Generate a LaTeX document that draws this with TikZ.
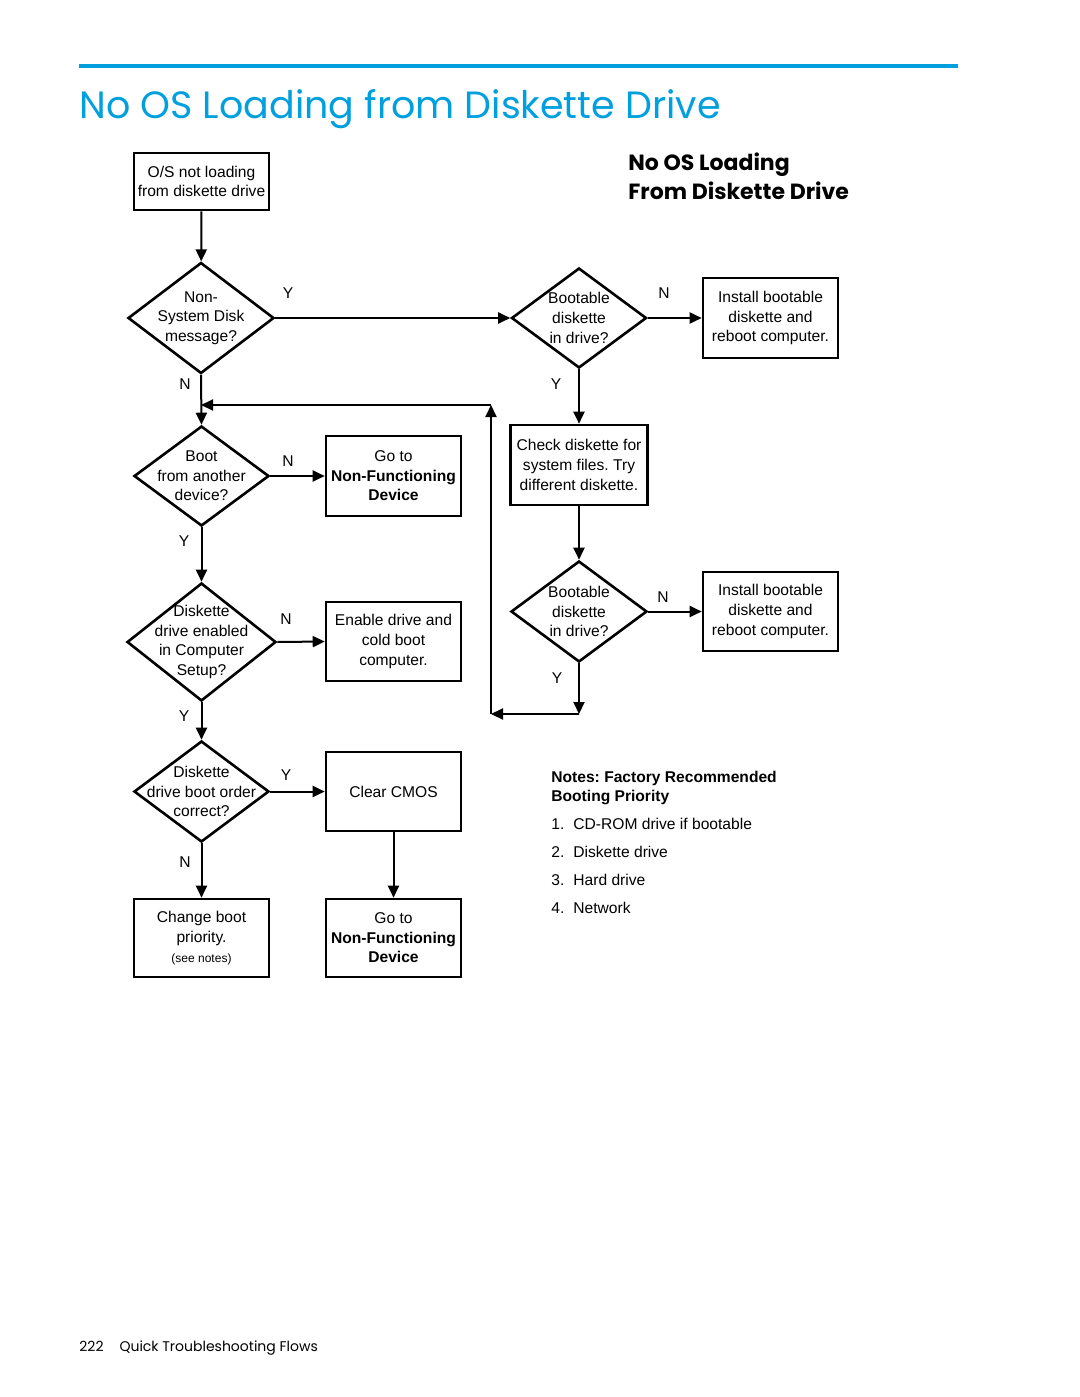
\documentclass[tikz,border=0pt]{standalone}
\usepackage{fontspec}
\setmainfont{Liberation Sans}
\newfontfamily\hpfont{Poppins}
\usepackage{tikz}
\usetikzlibrary{shapes.geometric}
\usetikzlibrary{arrows.meta}
\usepackage{color}
\definecolor{hpblue}{RGB}{0,160,222}
\def\flowfont{\fontsize{7.8}{9.8}\selectfont}
\frenchspacing

\tikzset{
  box/.style={draw, line width=1.3pt, align=center, inner sep=1pt, font=\flowfont},
  query/.style={draw, diamond, line width=1.3pt, align=center, inner sep=-10pt, font=\flowfont},
  flow/.style={line width=1pt, -{Triangle[length=6pt,width=5.5pt]}},
  yn/.style={inner sep=0pt, font=\flowfont},
  note/.style={anchor=base west, inner sep=0pt, font=\flowfont}
}

\begin{document}
\begin{tikzpicture}[x=0.5pt,y=-0.5pt]
  \useasboundingbox (0,0) rectangle (1080,1397);
  % page head
  \draw [hpblue, line width=2pt] (79,66)--(958,66);
  \node [anchor=base west, inner sep=0pt, text=hpblue, font=\hpfont\fontsize{19}{23}\selectfont] (title) at (79,118) {No OS Loading from Diskette Drive};
  \node [anchor=base west, inner sep=0pt, font=\hpfont\bfseries\fontsize{11}{13}\selectfont] (sub1) at (628,170) {No OS Loading};
  \node [anchor=base west, inner sep=0pt, font=\hpfont\bfseries\fontsize{11}{13}\selectfont] (sub2) at (628,199) {From Diskette Drive};

  % left column
  \node [box, minimum width=67.5pt, minimum height=28.5pt] (start) at (201.5,181.5) {O/S not loading\\from diskette drive};
  \node [query, minimum width=73pt, minimum height=55.5pt] (nonsys) at (201,318) {Non-\\System Disk\\message?};
  \node [query, minimum width=67.5pt, minimum height=50pt] (other) at (201.5,476) {Boot\\from another\\device?};
  \node [query, minimum width=74.5pt, minimum height=59pt] (enabled) at (201.5,642) {Diskette\\drive enabled\\in Computer\\Setup?};
  \node [query, minimum width=67.5pt, minimum height=50.5pt] (order) at (201.5,791.5) {Diskette\\drive boot order\\correct?};
  \node [box, minimum width=67.5pt, minimum height=39pt] (priority) at (201.5,938) {Change boot\\priority.\\{\fontsize{6}{8}\selectfont (see notes)}};

  % middle column
  \node [box, minimum width=67.5pt, minimum height=40pt] (nonfunc) at (393.5,476) {Go to\\\textbf{Non-Functioning}\\\textbf{Device}};
  \node [box, minimum width=67.5pt, minimum height=39.5pt] (enable) at (393.5,641.5) {Enable drive and\\cold boot\\computer.};
  \node [box, minimum width=67.5pt, minimum height=39.5pt] (cmos) at (393.5,791.5) {Clear CMOS};
  \node [box, minimum width=67.5pt, minimum height=39pt] (nonfunc2) at (393.5,938) {Go to\\\textbf{Non-Functioning}\\\textbf{Device}};

  % right column
  \node [query, minimum width=67.5pt, minimum height=50pt] (boot1) at (579,318) {Bootable\\diskette\\in drive?};
  \node [box, minimum width=67.5pt, minimum height=40pt] (install1) at (770.5,318) {Install bootable\\diskette and\\reboot computer.};
  \node [box, minimum width=68.5pt, minimum height=40pt] (check) at (579,465) {Check diskette for\\system files. Try\\different diskette.};
  \node [query, minimum width=68pt, minimum height=50.5pt] (boot2) at (579,611.5) {Bootable\\diskette\\in drive?};
  \node [box, minimum width=67.5pt, minimum height=39.5pt] (install2) at (770.5,611.5) {Install bootable\\diskette and\\reboot computer.};

  % loop back
  \coordinate (backA) at (579,714);
  \coordinate (backB) at (491,714);
  \coordinate (backC) at (491,405);
  \coordinate (backD) at (201,405);

  % connectors
  \draw [flow] (start)--(nonsys);
  \draw [flow] (nonsys.east)--(boot1.west);
  \draw [flow] (boot1.east)--(install1.west);
  \draw [flow] (boot1.south)--(check.north);
  \draw [flow] (check.south)--(boot2.north);
  \draw [flow] (boot2.east)--(install2.west);
  \draw [flow] (boot2.south)--(backA);
  \draw [flow] (backA)--(backB);
  \draw [flow] (backB)--(backC);
  \draw [flow] (backC)--(backD);
  \draw [flow] (nonsys.south)--(other.north);
  \draw [flow] (other.east)--(nonfunc.west);
  \draw [flow] (other.south)--(enabled.north);
  \draw [flow] (enabled.east)--(enable.west);
  \draw [flow] (enabled.south)--(order.north);
  \draw [flow] (order.east)--(cmos.west);
  \draw [flow] (order.south)--(priority.north);
  \draw [flow] (cmos.south)--(nonfunc2.north);

  % Y / N
  \node [yn] (y1) at (288,293) {Y};
  \node [yn] (n1) at (185,384) {N};
  \node [yn] (n2) at (664,293) {N};
  \node [yn] (y2) at (556,384) {Y};
  \node [yn] (n3) at (288,461) {N};
  \node [yn] (y3) at (184,541) {Y};
  \node [yn] (n4) at (286,619) {N};
  \node [yn] (y4) at (184,716) {Y};
  \node [yn] (y5) at (286,775) {Y};
  \node [yn] (n5) at (185,862) {N};
  \node [yn] (n6) at (663,597) {N};
  \node [yn] (y6) at (557,678) {Y};

  % notes
  \node [note, font=\flowfont\bfseries] (notes1) at (551,782) {Notes: Factory Recommended};
  \node [note, font=\flowfont\bfseries] (notes2) at (551,801) {Booting Priority};
  \node [note] (item1) at (551,829) {\makebox[11pt][l]{1.}CD-ROM drive if bootable};
  \node [note] (item2) at (551,857) {\makebox[11pt][l]{2.}Diskette drive};
  \node [note] (item3) at (551,885) {\makebox[11pt][l]{3.}Hard drive};
  \node [note] (item4) at (551,913) {\makebox[11pt][l]{4.}Network};

  % page foot
  \node [anchor=base west, inner sep=0pt, font=\hpfont\fontsize{7}{9}\selectfont] (foot) at (79,1351) {222\hspace{8pt}Quick Troubleshooting Flows};
\end{tikzpicture}
\end{document}
